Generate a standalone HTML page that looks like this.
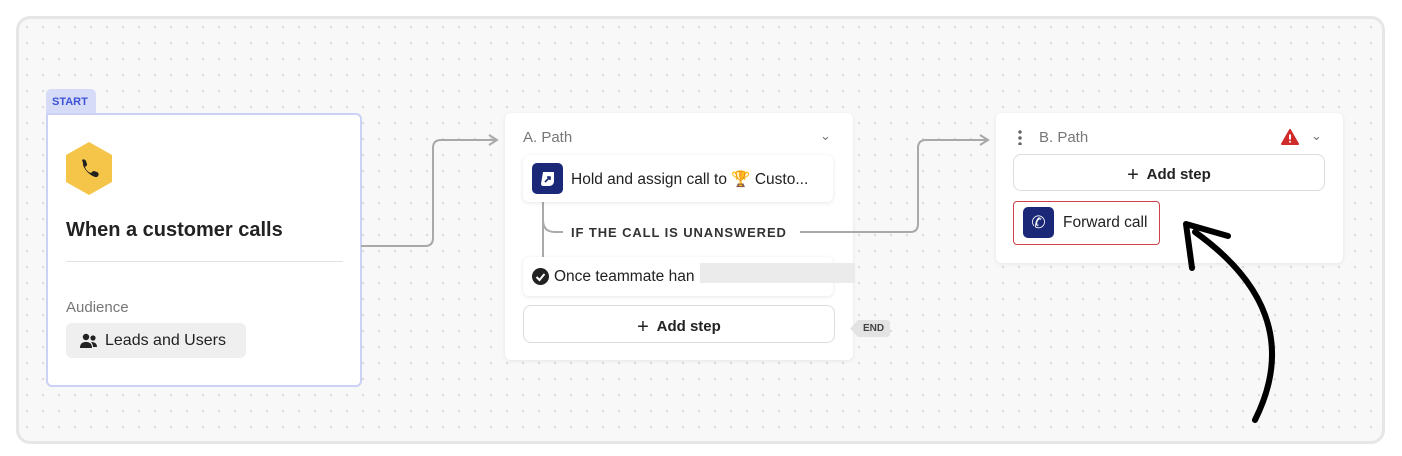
<!DOCTYPE html>
<html><head><meta charset="utf-8"><style>
*{box-sizing:border-box;margin:0;padding:0}
body{width:1402px;height:456px;background:#fff;font-family:"Liberation Sans",sans-serif;position:relative;overflow:hidden;color:#222}
.canvas{position:absolute;left:16px;top:16px;width:1369px;height:428px;border:3px solid #e6e6e6;border-radius:14px;background-color:#f8f8f8;background-image:radial-gradient(#d6d6d6 1px,transparent 1.2px);background-size:16px 16px}
.abs{position:absolute}
.card{position:absolute;background:#fff;border-radius:6px;box-shadow:0 1px 4px rgba(0,0,0,.08)}
.btn{position:absolute;border:1px solid #ddd;border-radius:8px;background:#fff;font-weight:bold;font-size:15px;text-align:center}
</style></head><body>
<div class="canvas"></div>
<div class="abs" style="left:46px;top:89px;width:50px;height:27px;background:#d6dbf7;border-radius:5px 5px 0 0;color:#3d52d5;font-size:11px;font-weight:bold;padding:7px 0 0 6px">START</div>
<div class="abs" style="left:46px;top:113px;width:316px;height:274px;background:#fff;border:2px solid #cbd2f5;border-radius:0 6px 6px 6px"></div>
<svg class="abs" style="left:64px;top:141px" width="50" height="56" viewBox="0 0 50 56"><polygon points="25,1 48,14 48,41 25,54 2,41 2,14" fill="#f5c54a"/><path d="M18 19c1-1 3-1 4 1l1 3c0 1 0 2-1 2l-1 1c1 3 3 5 6 6l1-1c1-1 2-1 2-1l3 1c2 1 2 3 1 4l-1 1c-5 1-15-9-14-14z" fill="#222"/></svg>
<div class="abs" style="left:66px;top:219px;font-size:20px;font-weight:bold;color:#222">When a customer calls</div>
<div class="abs" style="left:66px;top:261px;width:277px;height:1px;background:#e2e2e2"></div>
<div class="abs" style="left:66px;top:299px;font-size:15px;color:#777">Audience</div>
<div class="abs" style="left:66px;top:323px;width:180px;height:35px;background:#efefef;border-radius:6px;font-size:16px;padding:9px 0 0 39px">Leads and Users</div>
<svg class="abs" style="left:79px;top:333px" width="20" height="16"><circle cx="7" cy="4" r="3.2" fill="#222"/><circle cx="14" cy="5" r="2.6" fill="#222"/><path d="M1 15c0-5 3-6 6-6s6 1 6 6z M12 9c3 0 6 1 6 5h-4c0-2-1-4-2-5z" fill="#222"/></svg>
<svg class="abs" style="left:0;top:0" width="1402" height="456">
<path d="M361 246H425q8 0 8-8V148q0-8 8-8H496" stroke="#a9a9a9" stroke-width="2" fill="none"/>
<path d="M489 135l8 5-8 5" stroke="#a9a9a9" stroke-width="2" fill="none"/>
<path d="M853 232H910q8 0 8-8V148q0-8 8-8H987" stroke="#a9a9a9" stroke-width="2" fill="none"/>
<path d="M980 135l8 5-8 5" stroke="#a9a9a9" stroke-width="2" fill="none"/>
</svg>
<div class="card" style="left:505px;top:113px;width:348px;height:247px"></div>
<div class="abs" style="left:523px;top:129px;font-size:15px;color:#777">A. Path</div>
<div class="abs" style="left:820px;top:128px;font-size:13px;color:#777">&#8964;</div>
<svg class="abs" style="left:0;top:0" width="1402" height="456">
<path d="M543 200V257 M543 220q0 12 12 12h8" stroke="#aaa" stroke-width="2" fill="none"/>
<path d="M800 232H853" stroke="#a9a9a9" stroke-width="2" fill="none"/>
</svg>
<div class="card" style="left:523px;top:155px;width:310px;height:47px;box-shadow:0 1px 5px rgba(0,0,0,.1)"></div>
<div class="abs" style="left:532px;top:163px;width:31px;height:31px;background:#1a2877;border-radius:5px"><svg width="31" height="31"><path d="M11 9h11v9c0 3-2 5-5 5h-6c-1 0-2-1-2-2z" fill="#fff"/><path d="M13 19l5-5m-3 0h3v3" stroke="#1a2877" stroke-width="1.6" fill="none"/></svg></div>
<div class="abs" style="left:571px;top:170px;font-size:15.5px">Hold and assign call to 🏆 Custo...</div>
<div class="abs" style="left:571px;top:225px;font-size:13px;letter-spacing:.9px;font-weight:bold;color:#333">IF THE CALL IS UNANSWERED</div>
<div class="card" style="left:523px;top:257px;width:310px;height:39px;box-shadow:0 1px 5px rgba(0,0,0,.1)"></div>
<div class="abs" style="left:532px;top:268px;width:17px;height:17px;background:#222;border-radius:50%"><svg width="17" height="17"><path d="M4.5 9l3 3 5-6" stroke="#fff" stroke-width="2" fill="none"/></svg></div>
<div class="abs" style="left:554px;top:268px;font-size:15.5px">Once teammate han</div>
<div class="abs" style="left:700px;top:263px;width:155px;height:20px;background:#ebebeb"></div>
<div class="btn" style="left:523px;top:305px;width:312px;height:38px;padding-top:10px"><span style="font-weight:normal;font-size:20px;vertical-align:-2px">+</span>&nbsp; Add step</div>
<div class="abs" style="left:850px;top:320px;width:40px;height:17px;background:#e3e3e3;border-radius:3px;clip-path:polygon(0 50%,20% 0,100% 0,100% 100%,20% 100%);font-size:10px;font-weight:bold;color:#444;padding:3px 0 0 13px">END</div>
<div class="card" style="left:996px;top:113px;width:347px;height:150px"></div>
<div class="abs" style="left:1018px;top:129px;width:4px;height:16px;background:radial-gradient(circle,#666 1.5px,transparent 2px);background-size:4px 6px"></div>
<div class="abs" style="left:1039px;top:129px;font-size:15px;color:#777">B. Path</div>
<svg class="abs" style="left:1281px;top:129px" width="18" height="16"><path d="M9 1L17 15H1z" fill="#d02b2b" stroke="#d02b2b" stroke-linejoin="round" stroke-width="2"/><path d="M9 5.5v5" stroke="#fff" stroke-width="2"/><circle cx="9" cy="12.8" r="1" fill="#fff"/></svg>
<div class="abs" style="left:1311px;top:128px;font-size:13px;color:#777">&#8964;</div>
<div class="btn" style="left:1013px;top:154px;width:312px;height:37px;padding-top:9px"><span style="font-weight:normal;font-size:20px;vertical-align:-2px">+</span>&nbsp; Add step</div>
<div class="abs" style="left:1013px;top:201px;width:147px;height:44px;border:1.5px solid #d0404a;border-radius:4px;background:#fff"></div>
<div class="abs" style="left:1023px;top:207px;width:31px;height:31px;background:#1a2877;border-radius:5px;color:#fff;font-size:17px;text-align:center;line-height:31px">✆</div>
<div class="abs" style="left:1063px;top:214px;font-size:15.5px">Forward call</div>
<svg class="abs" style="left:0;top:0" width="1402" height="456">
<path d="M1255 420 C1280 370 1290 300 1195 232" stroke="#000" stroke-width="6" fill="none" stroke-linecap="round"/>
<path d="M1192 268 L1186 224 L1228 236" stroke="#000" stroke-width="6" fill="none" stroke-linecap="round" stroke-linejoin="round"/>
</svg>
</body></html>
